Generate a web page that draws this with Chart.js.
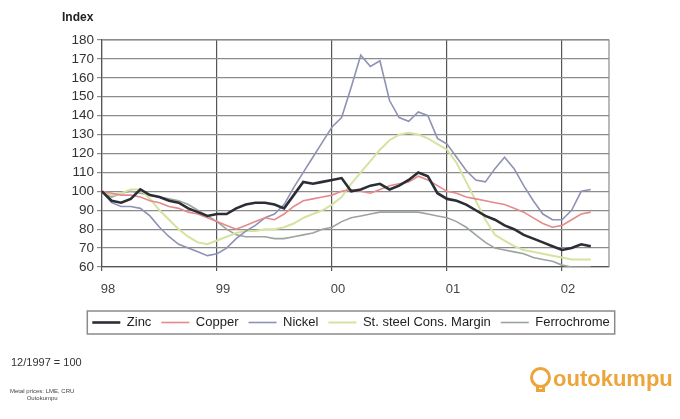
<!DOCTYPE html>
<html><head><meta charset="utf-8"><title>Metal price indices</title>
<script src="https://cdn.jsdelivr.net/npm/chart.js"></script>
<style>
body{margin:0;background:#fff;font-family:'Liberation Sans',Arial,sans-serif;}
#wrap{position:relative;width:680px;height:419px;overflow:hidden;}
#idx{position:absolute;left:62px;top:10px;font-size:12px;font-weight:bold;color:#222;}
#base{position:absolute;left:11px;top:356px;font-size:11px;color:#333;}
#src{position:absolute;left:10px;top:388px;font-size:6px;line-height:7px;color:#444;text-align:center;}
#logo{position:absolute;left:530px;top:366px;height:30px;}
#logo .ring{position:absolute;left:0;top:1px;width:15px;height:15px;border:3px solid #eda43a;border-radius:50%;}
#logo .stem{position:absolute;left:6px;top:21px;width:9px;height:5px;border-bottom:3px solid #eda43a;border-left:3px solid #eda43a;border-right:3px solid #eda43a;box-sizing:border-box;}
#logo .word{position:absolute;left:23px;top:0;font-size:22px;font-weight:bold;color:#eda43a;white-space:nowrap;}
</style></head>
<body>
<div id="wrap">
  <canvas id="c" width="680" height="419"></canvas>
  <div id="idx">Index</div>
  <div id="base">12/1997 = 100</div>
  <div id="src">Metal prices: LME, CRU<br>Outokumpu</div>
  <div id="logo"><div class="ring"></div><div class="stem"></div><div class="word">outokumpu</div></div>
</div>
<script>
// months since 12/1997
const MONTHS = [0,1,2,3,4,5,6,7,8,9,10,11,12,13,14,15,16,17,18,19,20,21,22,23,24,25,
  26,27,28,29,30,31,32,33,34,35,36,37,38,39,40,41,42,43,44,45,46,47,48,49,50,51];
const YEAR_TICKS = [0, 12, 24, 36, 48];
const YEAR_LABELS = ['98', '99', '00', '01', '02'];

const ZINC = [100,95,94,96,101,98,97,95,94,91,89,87,88,88,91,93,94,94,93,91,98,105,104,105,106,107,
  100,101,103,104,101,103,106,110,108,99,96,95,93,90,87,85,82,80,77,75,73,71,69,70,72,71];
const COPPER = [100,99,98,98,97,95,94,92,91,89,88,86,84,82,80,82,84,86,85,88,92,95,96,97,98,100,
  101,100,99,101,103,104,105,108,106,103,100,99,97,96,95,94,93,91,89,86,83,81,82,85,88,89];
const NICKEL = [100,94,92,92,91,87,81,76,72,70,68,66,67,70,75,79,82,86,88,93,102,110,118,126,134,139,
  155,172,166,169,148,139,137,142,140,128,125,118,111,106,105,112,118,112,103,95,88,85,85,90,100,101];
const STEEL_MARGIN = [100,98,99,101,101,96,90,85,80,76,73,72,74,76,78,79,79,80,80,81,83,86,88,90,93,97,
  104,110,116,122,127,130,131,130,128,125,122,115,105,95,85,77,74,71,69,68,67,66,65,64,64,64];
const FERROCHROME = [100,97,99,100,99,98,97,96,95,93,90,87,84,80,77,76,76,76,75,75,76,77,78,80,81,84,
  86,87,88,89,89,89,89,89,88,87,86,84,81,77,73,70,69,68,67,65,64,63,61,60,60,60];

const SERIES = [
  { label: 'Zinc', values: ZINC, color: '#2b2e35', width: 2.6 },
  { label: 'Copper', values: COPPER, color: '#e58a8c', width: 1.6 },
  { label: 'Nickel', values: NICKEL, color: '#8e92b4', width: 1.6 },
  { label: 'St. steel Cons. Margin', values: STEEL_MARGIN, color: '#d6e2a0', width: 2 },
  { label: 'Ferrochrome', values: FERROCHROME, color: '#9ba49e', width: 1.6 }
];

const FONT = "'Liberation Sans', Arial, sans-serif";

// frame around the plot and around the legend
const frames = {
  id: 'frames',
  afterDraw(chart) {
    const ctx = chart.ctx, a = chart.chartArea;
    ctx.save();
    ctx.strokeStyle = '#8c8c8c';
    ctx.lineWidth = 1.2;
    ctx.beginPath();
    ctx.moveTo(a.left, a.top); ctx.lineTo(a.right, a.top); ctx.lineTo(a.right, a.bottom);
    ctx.stroke();
    const hb = chart.legend.legendHitBoxes;
    if (hb && hb.length) {
      const l = Math.min(...hb.map(h => h.left)) - 5;
      const r = Math.max(...hb.map(h => h.left + h.width)) + 5;
      const t = Math.min(...hb.map(h => h.top)) - 5;
      const b = Math.max(...hb.map(h => h.top + h.height)) + 5;
      ctx.strokeStyle = '#8a8a8a';
      ctx.lineWidth = 1.5;
      ctx.strokeRect(l, t, r - l, b - t);
    }
    ctx.restore();
  }
};

new Chart(document.getElementById('c'), {
  type: 'line',
  data: {
    datasets: SERIES.map(s => ({
      label: s.label,
      data: MONTHS.map((m, i) => ({ x: m, y: s.values[i] })),
      borderColor: s.color,
      backgroundColor: s.color,
      borderWidth: s.width,
      pointRadius: 0,
      tension: 0
    }))
  },
  options: {
    responsive: false,
    animation: false,
    layout: { padding: { left: 22, right: 0, top: 40, bottom: 80 } },
    plugins: {
      tooltip: { enabled: false },
      legend: {
        position: 'bottom',
        labels: {
          usePointStyle: true, pointStyle: 'line', pointStyleWidth: 28,
          padding: 10, color: '#222',
          font: { family: FONT, size: 13 }
        }
      }
    },
    scales: {
      x: {
        type: 'linear', min: 0, max: 52.9,
        afterBuildTicks: s => { s.ticks = YEAR_TICKS.map(v => ({ value: v })); },
        afterFit: s => { s.height = 39; },
        ticks: {
          callback: v => YEAR_LABELS[YEAR_TICKS.indexOf(v)],
          color: '#444', padding: 11, labelOffset: 6, maxRotation: 0, autoSkip: false,
          font: { family: FONT, size: 13 }
        },
        grid: { color: '#555', lineWidth: 1.2, tickLength: 4 },
        border: { color: '#555', width: 1.2 }
      },
      y: {
        min: 60, max: 180,
        afterFit: s => { s.width = 80; },
        ticks: {
          stepSize: 10, color: '#333', padding: 3, autoSkip: false,
          font: { family: FONT, size: 13.5 }
        },
        grid: { color: '#8c8c8c', lineWidth: 1.2, tickLength: 5 },
        border: { color: '#555', width: 1.2 }
      },
      // empty margin on the right of the plot
      side: {
        position: 'right', min: 0, max: 1,
        afterFit: s => { s.width = 71; },
        ticks: { display: false },
        grid: { display: false },
        border: { display: false }
      }
    }
  },
  plugins: [frames]
});
</script>
</body></html>
